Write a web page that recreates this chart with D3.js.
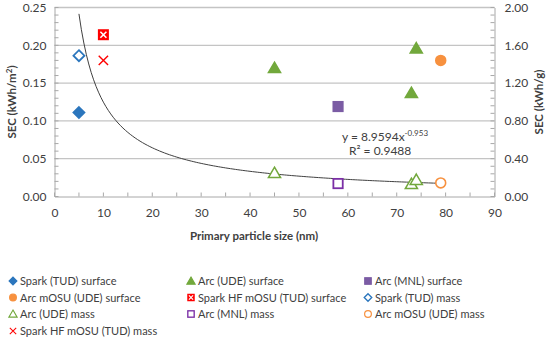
<!DOCTYPE html>
<html>
<head>
<meta charset="utf-8">
<script src="https://cdn.jsdelivr.net/npm/d3@7"></script>
<style>
  body { margin: 0; background: #fff; }
  text { font-family: Lato, "Open Sans", sans-serif; fill: #404040; }
</style>
</head>
<body>
<div id="chart"></div>
<script>
// data: [particle size (nm), SEC]; surface in kWh/m2 (left), mass in kWh/g (right)
const sparkTudSurface = [[5, 0.111]];
const arcUdeSurface = [[45, 0.170], [74, 0.196], [73, 0.137]];
const arcMnlSurface = [[58, 0.119]];
const arcMosuSurface = [[79, 0.180]];
const sparkHfSurface = [[10, 0.214]];
const sparkTudMass = [[5, 1.49]];
const arcUdeMass = [[45, 0.249], [73, 0.133], [74, 0.176]];
const arcMnlMass = [[58, 0.137]];
const arcMosuMass = [[79, 0.144]];
const sparkHfMass = [[10, 1.44]];

// power trendline on mass data: y = a * x^b
const trendA = 8.9594, trendB = -0.953;
const trendRange = [5, 79];

const xTicks = d3.range(0, 91, 10);
const yLeftTicks = [0, 0.05, 0.10, 0.15, 0.20, 0.25];
const yRightTicks = [0, 0.4, 0.8, 1.2, 1.6, 2.0];

const blue = "#2b76bd", green = "#72a83c", purple = "#7b5ca4",
      purpleLine = "#7b2fa6", orange = "#f7913f", red = "#ff0000";

const series = [
  {name: "Spark (TUD) surface", data: sparkTudSurface, axis: "L", shape: "diamond", fill: blue, stroke: blue},
  {name: "Arc (UDE) surface", data: arcUdeSurface, axis: "L", shape: "triangle", fill: green, stroke: green},
  {name: "Arc (MNL) surface", data: arcMnlSurface, axis: "L", shape: "square", fill: purple, stroke: purple},
  {name: "Arc mOSU (UDE) surface", data: arcMosuSurface, axis: "L", shape: "circle", fill: orange, stroke: orange},
  {name: "Spark HF mOSU (TUD) surface", data: sparkHfSurface, axis: "L", shape: "boxx", fill: red, stroke: red},
  {name: "Spark (TUD) mass", data: sparkTudMass, axis: "R", shape: "diamond", fill: "#fff", stroke: blue},
  {name: "Arc (UDE) mass", data: arcUdeMass, axis: "R", shape: "triangle", fill: "#fff", stroke: green},
  {name: "Arc (MNL) mass", data: arcMnlMass, axis: "R", shape: "square", fill: "#fff", stroke: purpleLine},
  {name: "Arc mOSU (UDE) mass", data: arcMosuMass, axis: "R", shape: "circle", fill: "#fff", stroke: orange},
  {name: "Spark HF mOSU (TUD) mass", data: sparkHfMass, axis: "R", shape: "x", fill: "none", stroke: red}
];

const W = 550, H = 341;
const svg = d3.select("#chart").append("svg")
  .attr("width", W).attr("height", H);

const x = d3.scaleLinear().domain([0, 90]).range([54.5, 494.5]);
const yL = d3.scaleLinear().domain([0, 0.25]).range([196.5, 7.5]);
const yR = d3.scaleLinear().domain([0, 2]).range([196.5, 7.5]);

// gridlines
svg.append("g").selectAll("line")
  .data(yLeftTicks.slice(1))
  .join("line")
    .attr("x1", x(0)).attr("x2", x(90))
    .attr("y1", d => yL(d)).attr("y2", d => yL(d))
    .attr("stroke", "#c4c4c4").attr("stroke-width", 1.3);

const axisColor = "#a8a8a8";

// left axis with inside minor ticks
const gl = svg.append("g").attr("transform", `translate(${x(0)},0)`);
gl.call(d3.axisLeft(yL).tickValues(yLeftTicks).tickFormat(d3.format(".2f")).tickSize(0).tickPadding(8));
gl.select(".domain").attr("stroke", axisColor);
gl.selectAll(".tick text").style("font-size", "12px").attr("fill", "#404040");
gl.append("g").selectAll("line")
  .data(d3.range(0, 0.2501, 0.01))
  .join("line")
    .attr("x1", 0).attr("x2", 4)
    .attr("y1", d => yL(d)).attr("y2", d => yL(d))
    .attr("stroke", axisColor);

// right axis
const gr = svg.append("g").attr("transform", `translate(${x(90)},0)`);
gr.call(d3.axisRight(yR).tickValues(yRightTicks).tickFormat(d3.format(".2f")).tickSize(0).tickPadding(10));
gr.select(".domain").attr("stroke", axisColor);
gr.selectAll(".tick text").style("font-size", "12px").attr("fill", "#404040");
gr.append("g").selectAll("line")
  .data(d3.range(0, 2.001, 0.08))
  .join("line")
    .attr("x1", -4).attr("x2", 0)
    .attr("y1", d => yR(d)).attr("y2", d => yR(d))
    .attr("stroke", axisColor);

// bottom axis
const gx = svg.append("g").attr("transform", `translate(0,${yL(0)})`);
gx.call(d3.axisBottom(x).tickValues(xTicks).tickSize(0).tickPadding(12));
gx.select(".domain").attr("stroke", axisColor);
gx.selectAll(".tick text").style("font-size", "12px").attr("fill", "#404040");
gx.append("g").selectAll("line")
  .data(d3.range(0, 91, 5))
  .join("line")
    .attr("x1", d => x(d)).attr("x2", d => x(d))
    .attr("y1", 0).attr("y2", -4)
    .attr("stroke", axisColor);

// axis titles
const yTitle = svg.append("text")
  .attr("transform", `translate(16,${yL(0.125)}) rotate(-90)`)
  .attr("text-anchor", "middle")
  .style("font-size", "11.5px").style("font-weight", "bold").attr("fill", "#262626");
yTitle.append("tspan").text("SEC (kWh/m");
yTitle.append("tspan").attr("dy", -4).style("font-size", "8px").text("2");
yTitle.append("tspan").attr("dy", 4).text(")");

svg.append("text")
  .attr("transform", `translate(543,${yR(1)}) rotate(-90)`)
  .attr("text-anchor", "middle")
  .style("font-size", "11.5px").style("font-weight", "bold").attr("fill", "#262626")
  .text("SEC (kWh/g)");

svg.append("text")
  .attr("x", 254).attr("y", 240)
  .attr("text-anchor", "middle")
  .style("font-size", "11.5px").style("font-weight", "bold").attr("fill", "#262626")
  .text("Primary particle size (nm)");

// trendline
const trendXs = d3.range(trendRange[0], trendRange[1] + 0.01, 0.5);
svg.append("path")
  .attr("d", d3.line().x(d => x(d)).y(d => yR(trendA * Math.pow(d, trendB)))(trendXs))
  .attr("fill", "none").attr("stroke", "#404040").attr("stroke-width", 1);

// equation label
const eq = svg.append("text").attr("x", 342).attr("y", 141).style("font-size", "12px").attr("fill", "#404040");
eq.append("tspan").text("y = 8.9594x");
eq.append("tspan").attr("dy", -5).style("font-size", "8px").text("-0.953");
svg.append("text").attr("x", 349).attr("y", 155).style("font-size", "12px").attr("fill", "#404040")
  .text("R² = 0.9488");

// marker drawing
function drawMarker(g, s, size) {
  const r = size / 2;
  const sw = size > 9 ? 1 : 0.75;
  if (s.shape === "diamond") {
    g.append("path").attr("d", `M0,${-r}L${r},0L0,${r}L${-r},0Z`)
      .attr("fill", s.fill).attr("stroke", s.stroke).attr("stroke-width", 1.8 * sw);
  } else if (s.shape === "triangle") {
    const h = r * 1.05;
    g.append("path").attr("d", `M0,${-h}L${h * 1.05},${h * 0.8}L${-h * 1.05},${h * 0.8}Z`)
      .attr("fill", s.fill).attr("stroke", s.stroke).attr("stroke-width", 1.5 * sw);
  } else if (s.shape === "square") {
    const a = r * 0.85;
    g.append("rect").attr("x", -a).attr("y", -a).attr("width", 2 * a).attr("height", 2 * a)
      .attr("fill", s.fill).attr("stroke", s.stroke).attr("stroke-width", 1.8 * sw);
  } else if (s.shape === "circle") {
    g.append("circle").attr("r", r * 0.9)
      .attr("fill", s.fill).attr("stroke", s.stroke).attr("stroke-width", 1.6 * sw);
  } else if (s.shape === "boxx") {
    const a = r;
    g.append("rect").attr("x", -a).attr("y", -a).attr("width", 2 * a).attr("height", 2 * a)
      .attr("fill", s.fill);
    const b = a * 0.55;
    g.append("path").attr("d", `M${-b},${-b}L${b},${b}M${b},${-b}L${-b},${b}`)
      .attr("stroke", "#fff").attr("stroke-width", 1.6 * sw);
  } else if (s.shape === "x") {
    const b = r * 0.85;
    g.append("path").attr("d", `M${-b},${-b}L${b},${b}M${b},${-b}L${-b},${b}`)
      .attr("stroke", s.stroke).attr("stroke-width", 1.4 * sw);
  }
}

// points
series.forEach(s => {
  const y = s.axis === "L" ? yL : yR;
  s.data.forEach(d => {
    const g = svg.append("g").attr("transform", `translate(${x(d[0])},${y(d[1])})`);
    drawMarker(g, s, 11);
  });
});

// legend, 3 columns
const legCols = [13, 191, 368];
const legRows = [281, 297.5, 314, 331];
series.forEach((s, i) => {
  const cx = legCols[i % 3], cy = legRows[Math.floor(i / 3)];
  const g = svg.append("g").attr("transform", `translate(${cx},${cy})`);
  drawMarker(g, s, 7.5);
  svg.append("text").attr("x", cx + 7).attr("y", cy + 4)
    .style("font-size", "11px").attr("fill", "#404040").text(s.name);
});
</script>
</body>
</html>
